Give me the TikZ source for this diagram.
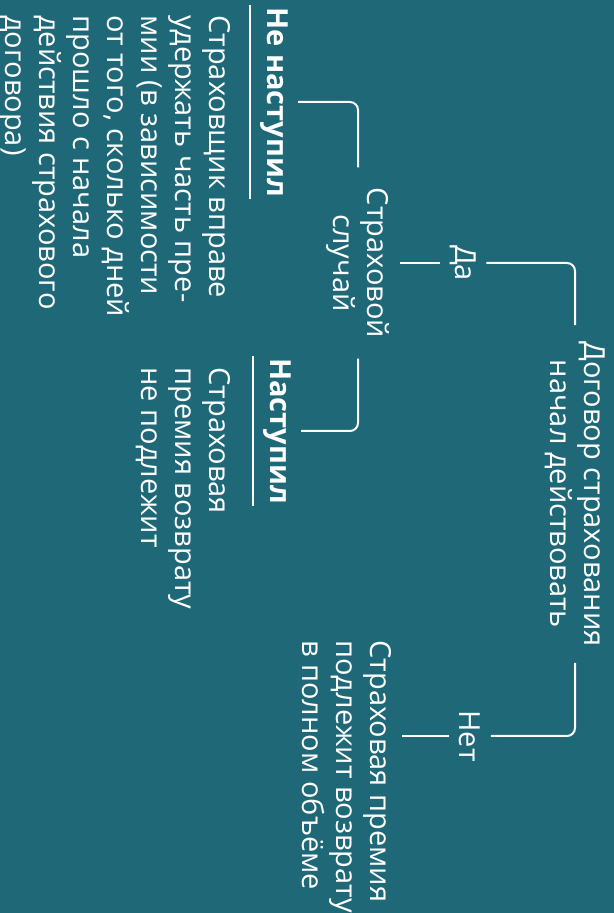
\documentclass[tikz,border=0pt]{standalone}
\usepackage{fontspec}
\setmainfont{Open Sans}
\definecolor{SeaTeal}{RGB}{30,104,120}
\usetikzlibrary{positioning,calc}
\tikzset{>=latex}

\begin{document}
\begin{tikzpicture}[x=0.5pt,y=0.5pt,
    txt/.style={text=white,rotate=-90,inner sep=0pt,font=\fontsize{14.5}{17}\selectfont},
    head/.style={txt,font=\fontsize{14.5}{17}\selectfont\bfseries,inner xsep=1pt,inner ysep=5pt},
    branch/.style={white,line width=1pt,rounded corners=4pt}]
        % draw background
        \fill[SeaTeal] (0,0) rectangle (614,913);
        \useasboundingbox (0,0) rectangle (614,913);
        % decision nodes
        \node[txt,align=center,inner xsep=8pt] at (575,419) (start) {Договор страхования\\начал действовать};
        \node[txt,inner sep=5pt] at (463,650) (yes) {Да};
        \node[txt,inner sep=5pt] at (470,177) (no) {Нет};
        \node[txt,align=center,inner xsep=10pt,inner ysep=5pt] at (358,650) (event) {Страховой\\случай};
        \node[txt,align=left,inner sep=5pt,anchor=north west] at (402,283) (refund) {Страховая премия\\подлежит возврату\\в полном объёме};
        % outcomes
        \node[head] at (274,811) (miss) {Не наступил};
        \node[head] at (277,482) (hit) {Наступил};
        \node[txt,align=left,anchor=north west] at (231,898) (missText) {Страховщик вправе\\удержать часть пре-\\мии (в зависимости\\от того, сколько дней\\прошло с начала\\действия страхового\\договора)};
        \node[txt,align=left,anchor=north west] at (231,546) (hitText) {Страховая\\премия возврату\\не подлежит};
        % draw branches
        \draw[branch] (start.west) |- (yes.north);
        \draw[branch] (yes.south) -- (event.north);
        \draw[branch] (start.east) |- (no.north);
        \draw[branch] (no.south) -- (no.south -| refund.north);
        \draw[branch] (event.west) |- (miss.north);
        \draw[branch] (event.east) |- (hit.north);
        % underlines
        \draw[branch] (miss.south west) -- (miss.south east);
        \draw[branch] (hit.south west) -- (hit.south east);
    \end{tikzpicture}
\end{document}
